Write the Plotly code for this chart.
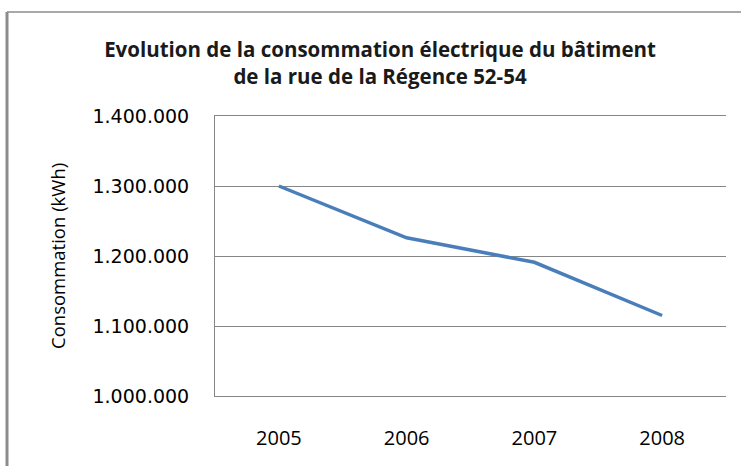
import plotly.graph_objects as go

years = ["2005", "2006", "2007", "2008"]
consumption = [1300000, 1226000, 1191000, 1115000]
y_ticks = [1000000, 1100000, 1200000, 1300000, 1400000]
y_tick_labels = ["1.000.000", "1.100.000", "1.200.000", "1.300.000", "1.400.000"]

W, H = 741, 466
L, R, T, B = 215, 15, 116, 70
pw, ph = W - L - R, H - T - B

def px(x):
    return (x - L) / pw

def py(y):
    return (H - B - y) / ph

fig = go.Figure()
fig.add_trace(go.Scatter(
    x=years, y=consumption, mode="lines",
    line=dict(color="#4a7ebb", width=3.5),
    showlegend=False, hoverinfo="x+y",
))

grid = "#868686"
fig.update_layout(
    width=W, height=H,
    margin=dict(l=L, r=R, t=T, b=B),
    paper_bgcolor="white", plot_bgcolor="white",
    title=dict(
        text="<b>Evolution de la consommation électrique du bâtiment<br>de la rue de la Régence 52-54</b>",
        x=380 / W, xanchor="center", xref="container",
        y=1 - 57 / H, yanchor="middle", yref="container",
        font=dict(family="Open Sans", size=20.5, color="#1a1a1a"),
    ),
    xaxis=dict(
        type="category", range=[-0.5, 3.5],
        showgrid=False, showline=True, mirror=True, linecolor=grid, linewidth=1,
        zeroline=False, ticks="", ticklabelstandoff=24,
        tickfont=dict(family="Open Sans", size=20, color="black"),
    ),
    yaxis=dict(
        range=[1000000, 1400000],
        tickvals=y_ticks, ticktext=y_tick_labels,
        showgrid=True, gridcolor=grid, gridwidth=1,
        showline=True, linecolor=grid, linewidth=1,
        zeroline=False, ticks="", ticklabelstandoff=21,
        tickfont=dict(family="DejaVu Sans", size=19, color="black"),
    ),
    annotations=[dict(
        text="Consommation (kWh)", textangle=-90,
        xref="paper", yref="paper", x=px(57), y=0.5,
        xanchor="center", yanchor="middle", showarrow=False,
        font=dict(family="Open Sans", size=18.5, color="black"),
    )],
    shapes=[
        dict(type="line", xref="paper", yref="paper", x0=px(7), x1=px(760), y0=py(12), y1=py(12),
             line=dict(color="#8c8c8c", width=1.5)),
        dict(type="line", xref="paper", yref="paper", x0=px(7), x1=px(7), y0=py(12), y1=py(480),
             line=dict(color="#8c8c8c", width=3)),
    ],
)

fig.write_html(
    "out.html",
    config={"displayModeBar": False},
    post_script="document.body.style.margin='0';document.body.style.overflow='hidden';",
)
